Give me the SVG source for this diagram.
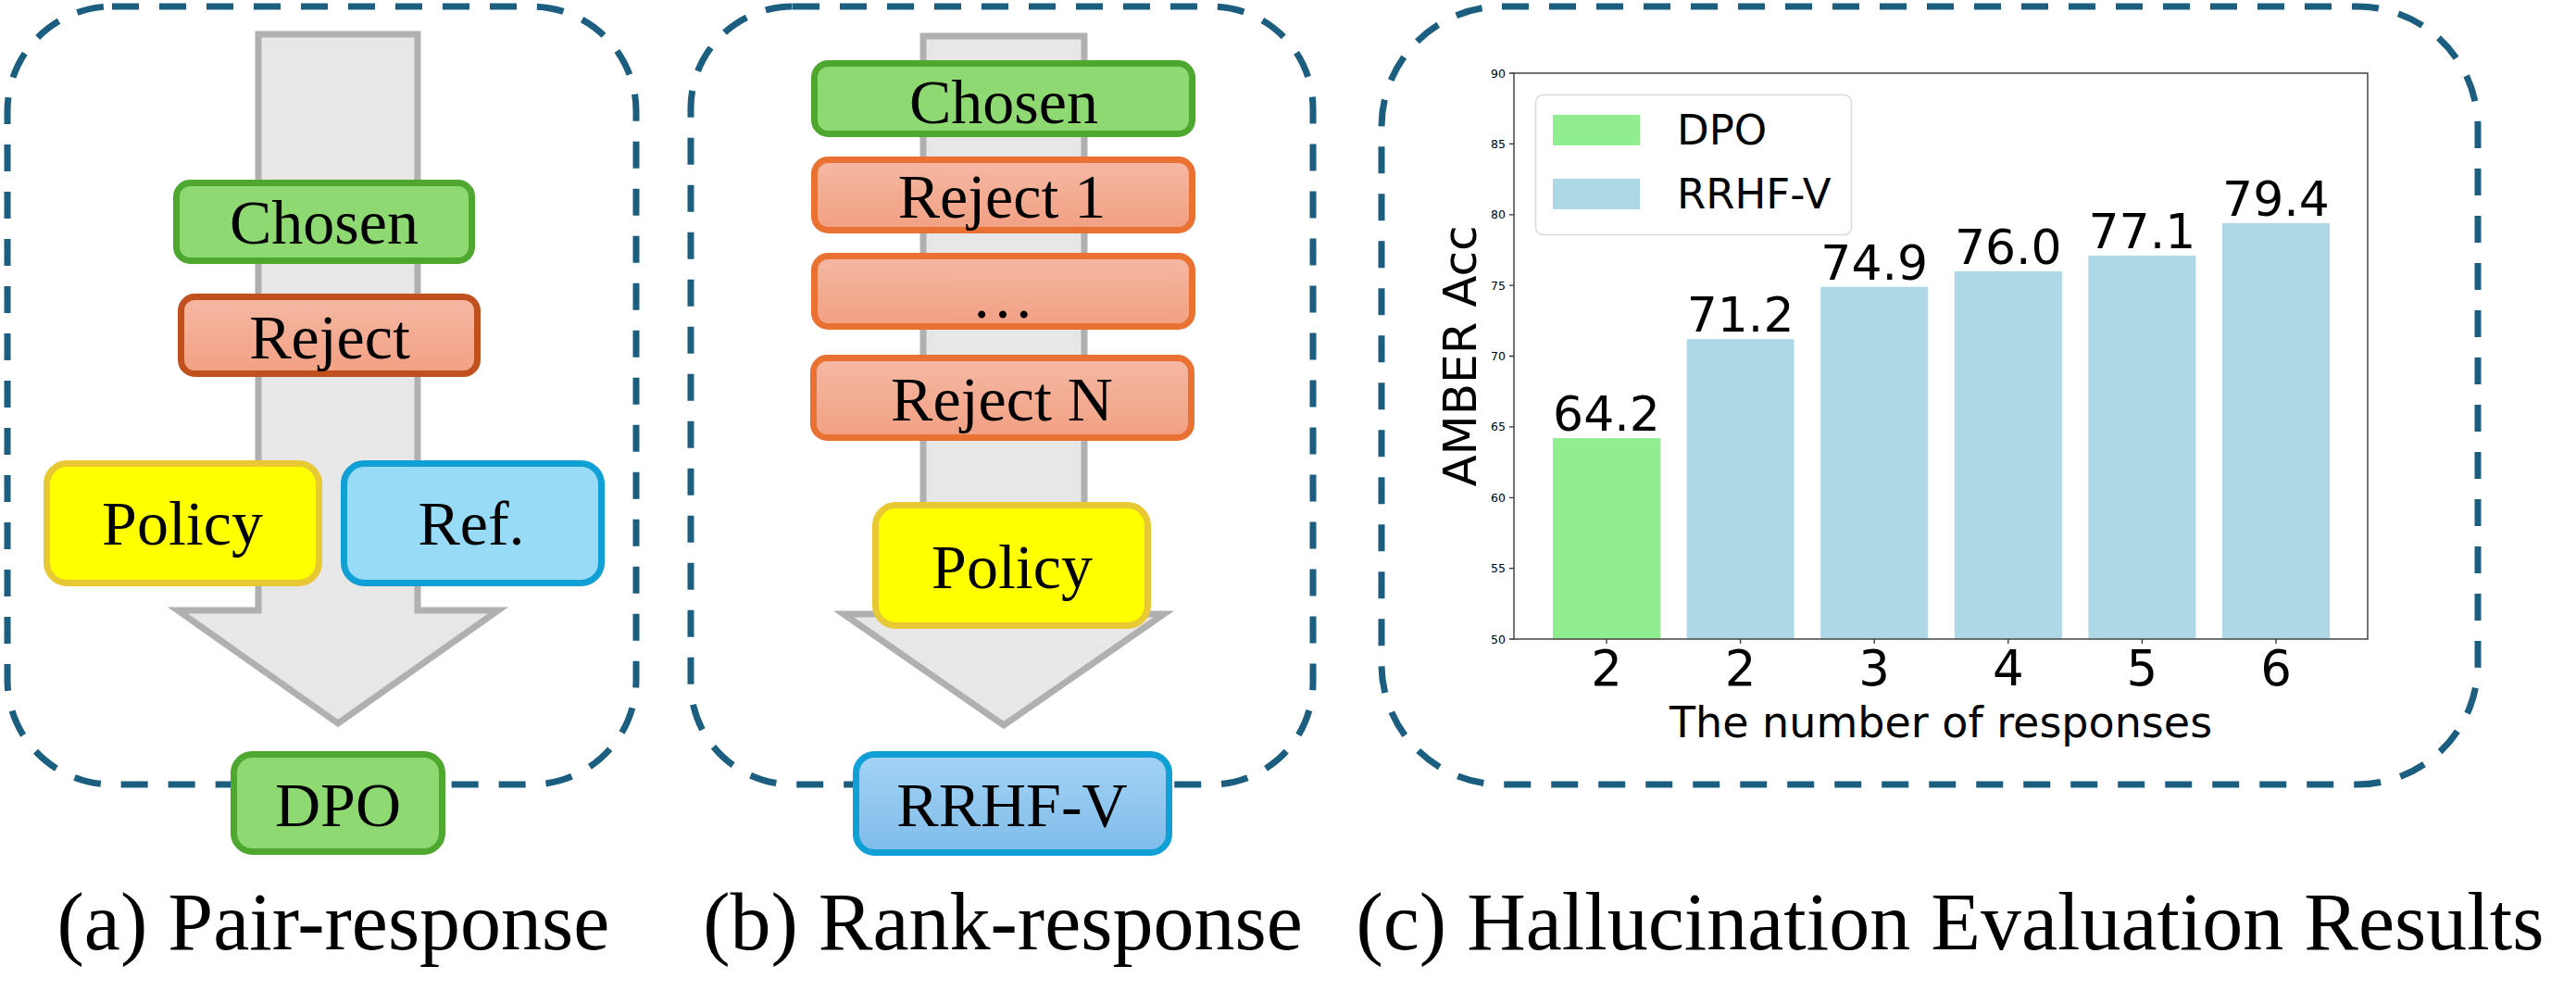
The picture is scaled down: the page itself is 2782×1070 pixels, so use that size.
<svg xmlns="http://www.w3.org/2000/svg" width="2782" height="1070" viewBox="0 0 2782 1070">
<defs>
<linearGradient id="gRej" x1="0" y1="0" x2="0" y2="1"><stop offset="0" stop-color="#f5b8a3"/><stop offset="1" stop-color="#f2a083"/></linearGradient>
<linearGradient id="gRr" x1="0" y1="0" x2="0" y2="1"><stop offset="0" stop-color="#a3d3f6"/><stop offset="1" stop-color="#7fbcea"/></linearGradient>
</defs>
<style>
.panel{fill:none;stroke:#1b5e80;stroke-width:7;stroke-dasharray:29 22}
.arrow{fill:#e7e7e7;stroke:#b0b0b0;stroke-width:7;stroke-linejoin:miter}
.box{stroke-width:7}
.green{fill:#8fd973;stroke:#4ea72e}
.rejA{fill:url(#gRej);stroke:#c0511f}
.rejB{fill:url(#gRej);stroke:#e97132}
.pol{fill:#ffff00;stroke:#e8c933}
.ref{fill:#97dbf7;stroke:#10a0d6}
.rr{fill:url(#gRr);stroke:#10a0d6}
.lbl{font-family:"Liberation Serif","Times New Roman",serif;font-size:68px;fill:#000;text-anchor:middle}
.cap{font-family:"Liberation Serif","Times New Roman",serif;font-size:88px;fill:#000;text-anchor:middle}
.dv{font-family:"DejaVu Sans",sans-serif;fill:#000}
.tick{font-size:12.5px;text-anchor:end}
.val{font-size:52px;text-anchor:middle}
.xt{font-size:53px;text-anchor:middle}
.spine{stroke:#444;stroke-width:1.5;fill:none}
.tk{stroke:#333;stroke-width:1.3}
</style>

<g id="panel-a"><rect class="panel" x="8" y="7" width="679" height="840" rx="113"/></g>
<g id="panel-b"><rect class="panel" x="746" y="7" width="672" height="840" rx="110"/></g>
<g id="panel-c"><rect class="panel" x="1492" y="7" width="1184" height="840" rx="130"/></g>

<g id="connectors">
<polygon class="arrow" points="279,37 451,37 451,659 538,659 365,781 192,659 279,659"/>
<polygon class="arrow" points="997,39 1171,39 1171,663 1257,663 1084,783 911,663 997,663"/>
</g>

<g id="a-chosen"><rect class="box green" x="190.5" y="197.5" width="319" height="84" rx="15"/><text class="lbl" x="350" y="263">Chosen</text></g>
<g id="a-reject"><rect class="box rejA" x="195.5" y="320.5" width="320" height="83" rx="15"/><text class="lbl" x="356" y="387">Reject</text></g>
<g id="a-policy"><rect class="box pol" x="50.5" y="500.5" width="294" height="129" rx="22"/><text class="lbl" x="197" y="588">Policy</text></g>
<g id="a-ref"><rect class="box ref" x="371.5" y="500.5" width="278" height="129" rx="22"/><text class="lbl" x="509" y="588">Ref.</text></g>
<g id="a-dpo"><rect class="box green" x="252.5" y="814.5" width="225" height="105" rx="20"/><text class="lbl" x="365" y="892">DPO</text></g>

<g id="b-chosen"><rect class="box green" x="879.5" y="68.5" width="408" height="76" rx="15"/><text class="lbl" x="1084" y="133">Chosen</text></g>
<g id="b-reject1"><rect class="box rejB" x="879.5" y="172.5" width="408" height="76" rx="15"/><text class="lbl" x="1082" y="235">Reject 1</text></g>
<g id="b-dots"><rect class="box rejB" x="879.5" y="276.5" width="408" height="76" rx="15"/><text class="lbl" x="1083" y="343">…</text></g>
<g id="b-rejectN"><rect class="box rejB" x="878.5" y="386.5" width="408" height="86" rx="15"/><text class="lbl" x="1082" y="454">Reject N</text></g>
<g id="b-policy"><rect class="box pol" x="945.5" y="545.5" width="294" height="130" rx="22"/><text class="lbl" x="1093" y="635">Policy</text></g>
<g id="b-rrhfv"><rect class="box rr" x="924.5" y="814.5" width="338" height="106" rx="20"/><text class="lbl" x="1093" y="892">RRHF-V</text></g>

<g id="chart">
<g id="bars">
<rect x="1677" y="473.1" width="116" height="216.9" fill="#90ee90"/>
<rect x="1821.6" y="366.2" width="116" height="323.8" fill="#add8e6"/>
<rect x="1966.2" y="309.7" width="116" height="380.3" fill="#add8e6"/>
<rect x="2110.8" y="292.9" width="116" height="397.1" fill="#add8e6"/>
<rect x="2255.4" y="276" width="116" height="414" fill="#add8e6"/>
<rect x="2400" y="240.9" width="116" height="449.1" fill="#add8e6"/>
</g>
<g id="values" class="dv val">
<text x="1735" y="465">64.2</text>
<text x="1879.6" y="358">71.2</text>
<text x="2024.2" y="301.5">74.9</text>
<text x="2168.8" y="285">76.0</text>
<text x="2313.4" y="268">77.1</text>
<text x="2458" y="233">79.4</text>
</g>
<rect class="spine" x="1635" y="79" width="922" height="611"/>
<g id="yticks">
<path class="tk" d="M1630,690H1635M1630,613.6H1635M1630,537.3H1635M1630,460.9H1635M1630,384.5H1635M1630,308.1H1635M1630,231.8H1635M1630,155.4H1635M1630,79H1635"/>
<g class="dv tick">
<text x="1626" y="694.5">50</text>
<text x="1626" y="618.1">55</text>
<text x="1626" y="541.8">60</text>
<text x="1626" y="465.4">65</text>
<text x="1626" y="389">70</text>
<text x="1626" y="312.6">75</text>
<text x="1626" y="236.3">80</text>
<text x="1626" y="159.9">85</text>
<text x="1626" y="83.5">90</text>
</g>
</g>
<g id="xticks">
<path class="tk" d="M1735,690V695M1879.6,690V695M2024.2,690V695M2168.8,690V695M2313.4,690V695M2458,690V695"/>
<g class="dv xt">
<text x="1735" y="740">2</text>
<text x="1879.6" y="740">2</text>
<text x="2024.2" y="740">3</text>
<text x="2168.8" y="740">4</text>
<text x="2313.4" y="740">5</text>
<text x="2458" y="740">6</text>
</g>
</g>
<text class="dv" x="2096" y="796" font-size="46" text-anchor="middle">The number of responses</text>
<text class="dv" transform="translate(1594,384.5) rotate(-90)" font-size="50" text-anchor="middle">AMBER Acc</text>
<g id="legend">
<rect x="1658.5" y="102.5" width="341" height="151" rx="8" fill="#fff" fill-opacity="0.8" stroke="#d9d9d9" stroke-width="1.5"/>
<rect x="1677" y="124" width="94" height="33" fill="#90ee90"/>
<rect x="1677" y="193" width="94" height="33" fill="#add8e6"/>
<text class="dv" x="1811" y="156" font-size="45">DPO</text>
<text class="dv" x="1811" y="225" font-size="45">RRHF-V</text>
</g>
</g>

<g id="captions">
<text class="cap" x="360" y="1025">(a) Pair-response</text>
<text class="cap" x="1083" y="1025">(b) Rank-response</text>
<text class="cap" x="2106" y="1025">(c) Hallucination Evaluation Results</text>
</g>
</svg>
